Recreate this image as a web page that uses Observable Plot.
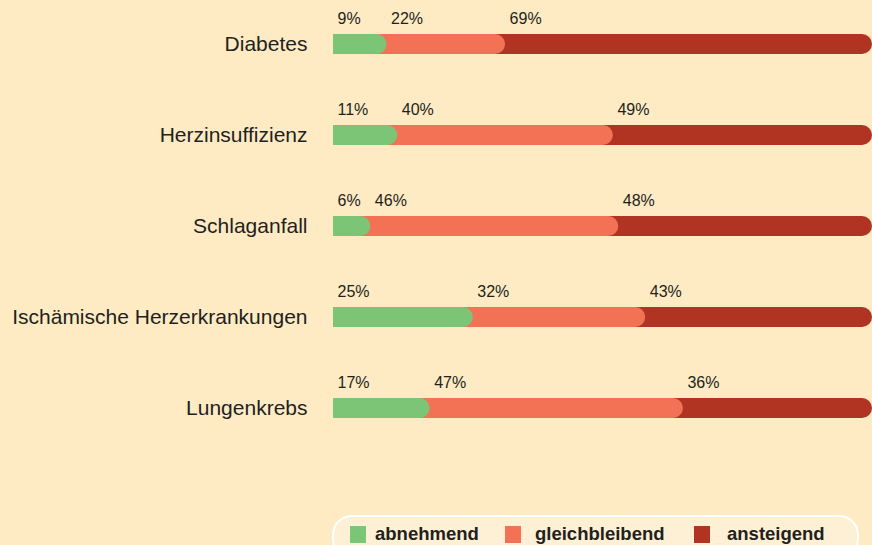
<!DOCTYPE html>
<html>
<head>
<meta charset="utf-8">
<script src="https://cdn.jsdelivr.net/npm/d3@7"></script>
<script src="https://cdn.jsdelivr.net/npm/@observablehq/plot@0.6"></script>
<style>
  html, body { margin: 0; padding: 0; background: #feebc4; }
  #wrap { position: relative; width: 872px; height: 545px; overflow: hidden; background: #feebc4; }
  #legend { position: absolute; left: 332px; top: 515px; width: 523px; height: 40px;
            border: 2.5px solid #ffffff; border-radius: 20px; background: #fef0d5; box-sizing: content-box; }
  .sw { position: absolute; top: 9px; width: 16px; height: 17px; }
  .lt { position: absolute; top: 6px; font: bold 18.5px "Liberation Sans", Arial, sans-serif; color: #231f20; line-height: 22px; }
</style>
</head>
<body>
<div id="wrap"></div>
<script>
const categories = ["Diabetes", "Herzinsuffizienz", "Schlaganfall", "Ischämische Herzerkrankungen", "Lungenkrebs"];
const abnehmend = [9, 11, 6, 25, 17];
const gleichbleibend = [22, 40, 46, 32, 47];
const ansteigend = [69, 49, 48, 43, 36];
const seriesNames = ["abnehmend", "gleichbleibend", "ansteigend"];
const seriesColors = ["#7cc576", "#f37256", "#b03421"];

const rows = categories.map((c, i) => ({
  cat: c,
  a: abnehmend[i],
  g: gleichbleibend[i],
  s: ansteigend[i]
}));

const ends = {
  ansteigend: d => d.a + d.g + d.s,
  gleichbleibend: d => d.a + d.g,
  abnehmend: d => d.a
};
const starts = {
  abnehmend: d => 0,
  gleichbleibend: d => d.a,
  ansteigend: d => d.a + d.g
};
const vals = { abnehmend: d => d.a, gleichbleibend: d => d.g, ansteigend: d => d.s };

const marks = [];
// draw back to front: ansteigend, gleichbleibend, abnehmend
for (const name of ["ansteigend", "gleichbleibend", "abnehmend"]) {
  const color = seriesColors[seriesNames.indexOf(name)];
  const ext = name === "ansteigend" ? 0 : -5;
  marks.push(Plot.barX(rows, { y: "cat", x1: 0, x2: ends[name], fill: color, rx: 10, insetRight: ext }));
  marks.push(Plot.barX(rows, { y: "cat", x1: 0, x2: ends[name], fill: color, insetRight: 10 }));
}
for (const name of seriesNames) {
  marks.push(Plot.text(rows, {
    y: "cat", x: starts[name], text: d => vals[name](d) + "%",
    textAnchor: "start", dx: name === "abnehmend" ? 4 : 9, dy: -26,
    fontSize: 16, fill: "#231f20"
  }));
}

const chart = Plot.plot({
  width: 872,
  height: 505,
  marginLeft: 333,
  marginRight: 0,
  marginTop: 33,
  marginBottom: 86,
  style: { background: "transparent", fontFamily: "'Liberation Sans', Arial, sans-serif", fontSize: "21px", color: "#231f20" },
  x: { domain: [0, 100], axis: null },
  y: { domain: categories, range: [33.3, 419.5], paddingInner: 0.7815, paddingOuter: 0, tickSize: 0, tickPadding: 26, label: null },
  marks
});
const wrap = document.getElementById("wrap");
wrap.appendChild(chart);

const legend = document.createElement("div");
legend.id = "legend";
const swLeft = [16, 171, 360];
const txtLeft = [41, 201, 393];
seriesNames.forEach((n, i) => {
  const sw = document.createElement("div");
  sw.className = "sw";
  sw.style.left = swLeft[i] + "px";
  sw.style.background = seriesColors[i];
  legend.appendChild(sw);
  const t = document.createElement("div");
  t.className = "lt";
  t.style.left = txtLeft[i] + "px";
  t.textContent = n;
  legend.appendChild(t);
});
wrap.appendChild(legend);
</script>
</body>
</html>
